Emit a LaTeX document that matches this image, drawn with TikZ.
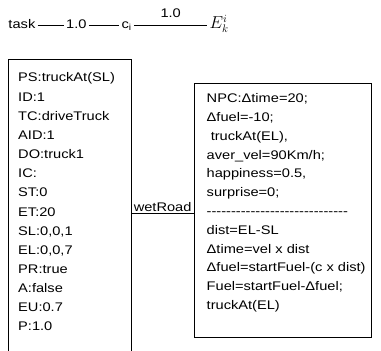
\documentclass[tikz,border=0pt]{standalone}
\usepackage{fontspec}
\setmainfont{Liberation Sans}[FakeStretch=1.17]
\usetikzlibrary{positioning}
\tikzset{
  word/.style={inner sep=0pt, inner xsep=2pt, text height=9pt, text depth=3pt,
               font=\fontsize{12.5}{15}\selectfont},
  weight/.style={inner sep=0pt, font=\fontsize{12.5}{15}\selectfont},
  box/.style={rectangle, draw=black, line width=0.8pt, anchor=north west},
  lines/.style={anchor=north west, inner sep=0pt, align=left},
  link/.style={draw=black, line width=0.8pt},
}
\newcommand{\dashrow}{\foreach \n in {1,...,29}{-\kern0pt}}

\begin{document}
\begin{tikzpicture}[x=1pt, y=-1pt]
  \useasboundingbox (0,0) rectangle (381,351);

  % top row
  \node[word, anchor=base west] (task) at (6.3,28.3) {task};
  \node[word, right=26.5pt of task] (w1) {1.0};
  \node[word, right=30.7pt of w1] (ci) {c\textsubscript{i}};
  \node[word, right=73.5pt of ci, font=\fontsize{16}{18}\selectfont] (eki) {$E_k^i$};

  \draw[link] (task) -- (w1);
  \draw[link] (w1) -- (ci);
  \draw[link] (ci) -- node[weight, above=7pt] {1.0} (eki);

  % boxes
  \node[box, minimum width=123pt, minimum height=308pt] (ps) at (8,59) {};
  \node[lines, font=\fontsize{12.5}{19.15}\selectfont] (pstext)
    at ([shift={(10,13.7)}]ps.north west)
    {PS:truckAt(SL)\\ID:1\\TC:driveTruck\\AID:1\\DO:truck1\\IC:\\ST:0\\ET:20\\
     SL:0,0,1\\EL:0,0,7\\PR:true\\A:false\\EU:0.7\\P:1.0};

  \node[box, minimum width=177.5pt, minimum height=254pt] (npc) at (193.5,82.7) {};
  \node[lines, font=\fontsize{12.5}{18.8}\selectfont] (npctext)
    at ([shift={(13,10.8)}]npc.north west)
    {NPC:Δtime=20;\\Δfuel=-10;\\\ truckAt(EL),\\aver\_vel=90Km/h;\\
     happiness=0.5,\\surprise=0;\\\dashrow\\dist=EL-SL\\Δtime=vel x dist\\
     Δfuel=startFuel-(c x dist)\\Fuel=startFuel-Δfuel;\\truckAt(EL)};

  \draw[link] (ps.east) -- node[weight, above, inner sep=1pt] {wetRoad} (ps.east -| npc.west);
\end{tikzpicture}
\end{document}
